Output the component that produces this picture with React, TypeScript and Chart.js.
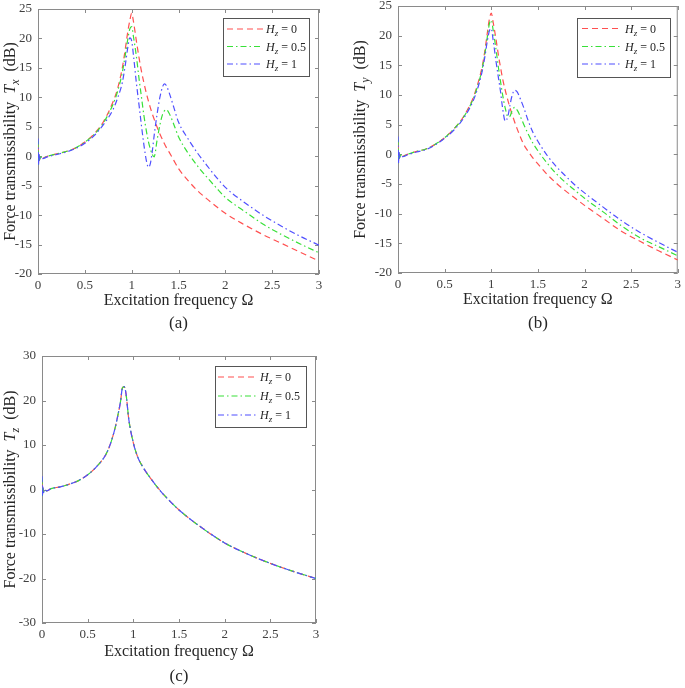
import React, { useEffect, useRef } from 'react';
import { Chart, registerables } from 'chart.js';

Chart.register(...registerables);

// ---------------- Data ----------------
// Panel (a): force transmissibility T_x (dB) vs excitation frequency Ω
const omegaX = [0, 0.005, 0.01, 0.015, 0.025, 0.05, 0.1, 0.2, 0.3, 0.4, 0.5, 0.6, 0.7, 0.8, 0.85, 0.9, 0.93, 0.96, 0.98, 1.0, 1.02, 1.05, 1.08, 1.1, 1.13, 1.16, 1.18, 1.2, 1.22, 1.24, 1.27, 1.3, 1.33, 1.35, 1.37, 1.4, 1.45, 1.5, 1.6, 1.7, 1.8, 1.9, 2.0, 2.2, 2.4, 2.6, 2.8, 3.0];
const txHz0 = [2.0, -1.2, 0.4, -0.6, -0.1, -0.3, 0.0, 0.4, 0.8, 1.4, 2.4, 3.8, 5.9, 9.2, 11.5, 15.0, 18.0, 21.3, 23.0, 24.3, 22.8, 19.6, 16.6, 14.8, 12.5, 10.5, 9.3, 8.2, 7.2, 6.3, 5.0, 3.8, 2.8, 2.1, 1.5, 0.7, -0.7, -2.1, -4.1, -5.8, -7.2, -8.5, -9.7, -11.6, -13.3, -14.8, -16.3, -17.8];
const txHz05 = [2.5, -1.4, 0.5, -0.7, -0.1, -0.3, 0.0, 0.4, 0.8, 1.4, 2.4, 3.7, 5.7, 8.8, 11.0, 14.2, 17.0, 20.0, 21.6, 22.0, 20.2, 17.0, 13.0, 10.6, 7.0, 4.0, 2.4, 1.2, 0.3, -0.1, 2.6, 5.2, 7.1, 7.7, 7.9, 7.3, 5.4, 3.3, 0.6, -1.6, -3.5, -5.3, -7.0, -9.3, -11.5, -13.3, -14.9, -16.4];
const txHz1 = [3.0, -1.5, 0.6, -0.8, -0.1, -0.4, -0.1, 0.3, 0.7, 1.3, 2.2, 3.5, 5.4, 7.9, 9.9, 12.5, 15.3, 18.6, 20.1, 19.6, 17.0, 12.5, 8.5, 5.8, 2.0, -1.0, -1.9, -1.2, 0.8, 3.5, 7.0, 9.9, 11.8, 12.3, 12.0, 10.8, 8.3, 5.8, 3.0, 0.6, -1.5, -3.5, -5.3, -7.8, -10.0, -11.9, -13.6, -15.1];

// Panel (b): T_y (dB)
const omegaY = [0, 0.005, 0.01, 0.015, 0.025, 0.05, 0.1, 0.2, 0.3, 0.4, 0.5, 0.6, 0.7, 0.8, 0.85, 0.9, 0.93, 0.96, 0.98, 1.0, 1.02, 1.05, 1.08, 1.1, 1.12, 1.15, 1.18, 1.2, 1.22, 1.25, 1.28, 1.3, 1.35, 1.4, 1.45, 1.5, 1.6, 1.7, 1.8, 1.9, 2.0, 2.2, 2.4, 2.6, 2.8, 3.0];
const tyHz0 = [2.0, -1.2, 0.4, -0.6, -0.1, -0.3, 0.0, 0.5, 0.9, 1.7, 2.8, 4.3, 6.3, 9.3, 11.6, 14.6, 17.3, 20.7, 22.8, 23.8, 22.3, 19.5, 16.4, 14.6, 12.9, 10.8, 9.0, 7.9, 6.9, 5.5, 4.2, 3.4, 1.6, 0.4, -0.7, -1.6, -3.4, -4.9, -6.2, -7.4, -8.6, -10.8, -13.0, -14.7, -16.3, -17.8];
const tyHz05 = [2.5, -1.4, 0.5, -0.7, -0.1, -0.3, 0.0, 0.5, 0.9, 1.7, 2.8, 4.3, 6.2, 9.1, 11.3, 14.2, 16.8, 20.0, 22.0, 22.6, 21.0, 17.8, 14.3, 12.2, 10.2, 7.8, 6.3, 6.4, 7.2, 7.9, 7.4, 6.8, 5.0, 3.3, 1.8, 0.6, -1.5, -3.3, -4.8, -6.1, -7.4, -9.7, -12.1, -14.1, -15.6, -17.1];
const tyHz1 = [3.0, -1.5, 0.6, -0.8, -0.1, -0.4, -0.1, 0.4, 0.8, 1.6, 2.7, 4.1, 6.0, 8.8, 10.9, 13.8, 16.3, 19.3, 20.8, 21.2, 19.3, 15.8, 12.6, 10.5, 8.0, 5.6, 6.5, 8.2, 9.7, 10.8, 10.5, 9.8, 7.8, 5.5, 3.6, 2.2, -0.2, -2.1, -3.7, -5.2, -6.5, -8.9, -11.2, -13.2, -14.9, -16.5];

// Panel (c): T_z (dB) — the three curves coincide
const omegaZ = [0, 0.005, 0.01, 0.015, 0.025, 0.05, 0.1, 0.2, 0.3, 0.4, 0.5, 0.6, 0.7, 0.75, 0.8, 0.83, 0.86, 0.88, 0.9, 0.92, 0.95, 1.0, 1.05, 1.1, 1.2, 1.3, 1.4, 1.5, 1.75, 2.0, 2.25, 2.5, 2.75, 3.0];
const tzHz0 = [2.0, -1.2, 0.4, -0.6, 0.0, -0.3, 0.2, 0.6, 1.2, 2.0, 3.3, 5.2, 7.9, 10.3, 13.8, 16.6, 19.8, 22.8, 23.1, 21.5, 15.8, 10.5, 7.2, 5.2, 2.2, -0.4, -2.6, -4.6, -8.6, -12.0, -14.5, -16.6, -18.4, -20.0];
const tzHz05 = [2.5, -1.4, 0.5, -0.7, 0.0, -0.3, 0.2, 0.6, 1.2, 2.0, 3.3, 5.2, 7.9, 10.3, 13.8, 16.6, 19.8, 22.8, 23.1, 21.5, 15.8, 10.5, 7.2, 5.2, 2.2, -0.4, -2.6, -4.6, -8.6, -12.0, -14.5, -16.6, -18.4, -20.0];
const tzHz1 = [3.0, -1.5, 0.6, -0.8, 0.0, -0.3, 0.2, 0.6, 1.2, 2.0, 3.3, 5.2, 7.9, 10.3, 13.8, 16.6, 19.8, 22.8, 23.1, 21.5, 15.8, 10.5, 7.2, 5.2, 2.2, -0.4, -2.6, -4.6, -8.6, -12.0, -14.5, -16.6, -18.4, -20.0];

const hzValues = ['0', '0.5', '1'];
const freqTicks = [0, 0.5, 1, 1.5, 2, 2.5, 3];
const dbTicksXY = [-20, -15, -10, -5, 0, 5, 10, 15, 20, 25];
const dbTicksZ = [-30, -20, -10, 0, 10, 20, 30];

// ---------------- Styling ----------------
const SERIF = "'Liberation Serif', 'Times New Roman', serif";
const FRAME = '#8a8a8a';
const TICK_TXT = '#404040';
const TITLE_TXT = '#262626';
const OFF = 20; // canvases start 20px above the page top
const W = 685;
const H = 728;

const seriesStyles = [
  { color: '#ff5050', dash: [6, 4] },
  { color: '#38e038', dash: [6, 3, 1.5, 3] },
  { color: '#4f4fff', dash: [6, 3, 1.5, 3] },
];

type Seg = { t: string; it?: boolean; sub?: boolean };
type Box = { l: number; t: number; r: number; b: number };
type Panel = {
  id: string;
  omega: number[];
  values: number[][];
  axisSub: string;
  yMin: number;
  yMax: number;
  yTicks: number[];
  area: Box;
  yTitleX: number;
  xTitleY: number;
  caption: string;
  captionY: number;
  legend: Box & { rows: number[]; lineL: number; lineR: number; textX: number };
};

const panels: Panel[] = [
  {
    id: 'a', omega: omegaX, values: [txHz0, txHz05, txHz1], axisSub: 'x',
    yMin: -20, yMax: 25, yTicks: dbTicksXY,
    area: { l: 38, t: 9, r: 319, b: 274 },
    yTitleX: 9, xTitleY: 301, caption: '(a)', captionY: 324,
    legend: { l: 223, t: 18, r: 309, b: 76, rows: [29, 46.5, 64], lineL: 227, lineR: 263, textX: 266 },
  },
  {
    id: 'b', omega: omegaY, values: [tyHz0, tyHz05, tyHz1], axisSub: 'y',
    yMin: -20, yMax: 25, yTicks: dbTicksXY,
    area: { l: 398, t: 6, r: 680, b: 273 },
    yTitleX: 359, xTitleY: 300, caption: '(b)', captionY: 324,
    legend: { l: 577, t: 18, r: 670, b: 77, rows: [28.5, 46.5, 64], lineL: 582, lineR: 621, textX: 625 },
  },
  {
    id: 'c', omega: omegaZ, values: [tzHz0, tzHz05, tzHz1], axisSub: 'z',
    yMin: -30, yMax: 30, yTicks: dbTicksZ,
    area: { l: 42, t: 356, r: 316, b: 623 },
    yTitleX: 9, xTitleY: 652, caption: '(c)', captionY: 677,
    legend: { l: 215, t: 366, r: 306, b: 427, rows: [377, 396, 415], lineL: 218, lineR: 257, textX: 260 },
  },
];

function segFont(s: Seg, size: number) {
  const sz = s.sub ? Math.round(size * 0.72) : size;
  return `${s.it ? 'italic ' : ''}${sz}px ${SERIF}`;
}

function drawSegs(ctx: CanvasRenderingContext2D, segs: Seg[], x: number, baseY: number, size: number, align: 'left' | 'center') {
  let w = 0;
  for (const s of segs) {
    ctx.font = segFont(s, size);
    w += ctx.measureText(s.t).width;
  }
  let cx = align === 'center' ? x - w / 2 : x;
  ctx.textAlign = 'left';
  ctx.textBaseline = 'alphabetic';
  for (const s of segs) {
    ctx.font = segFont(s, size);
    ctx.fillText(s.t, cx, baseY + (s.sub ? size * 0.28 : 0));
    cx += ctx.measureText(s.t).width;
  }
}

function panelPlugin(p: Panel) {
  return {
    id: 'panel_' + p.id,
    beforeDatasetsDraw(chart: any) {
      // axes box and inward ticks (drawn beneath the curves, as in the original)
      const ctx: CanvasRenderingContext2D = chart.ctx;
      const xs = chart.scales.x;
      const ys = chart.scales.y;
      const ca = chart.chartArea;
      ctx.save();
      ctx.setLineDash([]);
      ctx.strokeStyle = FRAME;
      ctx.lineWidth = 1;
      ctx.strokeRect(ca.left + 0.5, ca.top + 0.5, ca.right - ca.left - 1, ca.bottom - ca.top - 1);
      ctx.beginPath();
      for (const v of freqTicks) {
        const px = Math.round(xs.getPixelForValue(v)) + 0.5;
        ctx.moveTo(px, ca.bottom);
        ctx.lineTo(px, ca.bottom - 4);
        ctx.moveTo(px, ca.top);
        ctx.lineTo(px, ca.top + 4);
      }
      for (const v of p.yTicks) {
        const py = Math.round(ys.getPixelForValue(v)) + 0.5;
        ctx.moveTo(ca.left, py);
        ctx.lineTo(ca.left + 4, py);
        ctx.moveTo(ca.right, py);
        ctx.lineTo(ca.right - 4, py);
      }
      ctx.stroke();
      ctx.restore();
    },
    afterDatasetsDraw(chart: any) {
      const ctx: CanvasRenderingContext2D = chart.ctx;
      const ca = chart.chartArea;
      ctx.save();
      ctx.setLineDash([]);
      ctx.lineWidth = 1;

      // legend
      const lg = p.legend;
      ctx.fillStyle = '#ffffff';
      ctx.fillRect(lg.l, lg.t + OFF, lg.r - lg.l, lg.b - lg.t);
      ctx.strokeStyle = '#555555';
      ctx.strokeRect(lg.l + 0.5, lg.t + OFF + 0.5, lg.r - lg.l, lg.b - lg.t);
      chart.data.datasets.forEach((ds: any, i: number) => {
        const y = lg.rows[i] + OFF;
        ctx.save();
        ctx.strokeStyle = ds.borderColor;
        ctx.lineWidth = ds.borderWidth;
        ctx.setLineDash(ds.borderDash);
        ctx.beginPath();
        ctx.moveTo(lg.lineL, y);
        ctx.lineTo(lg.lineR, y);
        ctx.stroke();
        ctx.restore();
        ctx.fillStyle = TITLE_TXT;
        drawSegs(ctx, [{ t: 'H', it: true }, { t: 'z', it: true, sub: true }, { t: ' = ' + hzValues[i] }], lg.textX, y + 4, 12, 'left');
      });

      // axis titles and caption
      ctx.fillStyle = TITLE_TXT;
      ctx.font = `16px ${SERIF}`;
      ctx.textAlign = 'center';
      ctx.textBaseline = 'middle';
      const cx = (ca.left + ca.right) / 2;
      ctx.fillText('Excitation frequency Ω', cx, p.xTitleY + OFF);
      ctx.font = `17px ${SERIF}`;
      ctx.fillText(p.caption, cx, p.captionY + OFF);

      const cy = (ca.top + ca.bottom) / 2;
      ctx.save();
      ctx.translate(p.yTitleX, cy);
      ctx.rotate(-Math.PI / 2);
      drawSegs(
        ctx,
        [{ t: 'Force transmissibility  ' }, { t: 'T', it: true }, { t: p.axisSub, it: true, sub: true }, { t: '  (dB)' }],
        0, 5.5, 16, 'center'
      );
      ctx.restore();
      ctx.restore();
    },
  };
}

function makeConfig(p: Panel): any {
  const a = p.area;
  const orders = [3, 2, 1];
  const padLeft = a.l > 200 ? 345 : 0;
  return {
    type: 'line',
    data: {
      datasets: p.values.map((vals, i) => ({
        label: 'H_z = ' + hzValues[i],
        data: p.omega.map((o, k) => ({ x: o, y: vals[k] })),
        borderColor: seriesStyles[i].color,
        borderDash: seriesStyles[i].dash,
        borderWidth: 1.2,
        pointRadius: 0,
        fill: false,
        cubicInterpolationMode: 'monotone',
        order: orders[i],
      })),
    },
    options: {
      animation: false,
      responsive: false,
      devicePixelRatio: 1,
      events: [],
      layout: {
        padding: { left: padLeft, right: W - a.r, top: a.t + OFF, bottom: 0 },
      },
      plugins: { legend: { display: false }, tooltip: { enabled: false }, title: { display: false } },
      scales: {
        x: {
          type: 'linear',
          min: 0,
          max: 3,
          grid: { display: false, drawTicks: false },
          border: { display: false },
          ticks: {
            autoSkip: false, padding: 4, color: TICK_TXT, font: { family: SERIF, size: 13 }, maxRotation: 0,
            callback: (v: any) => String(v),
          },
          afterBuildTicks: (axis: any) => { axis.ticks = freqTicks.map((value) => ({ value })); },
          afterFit: (scale: any) => { scale.height = H - (a.b + OFF); },
        },
        y: {
          type: 'linear',
          min: p.yMin,
          max: p.yMax,
          grid: { display: false, drawTicks: false },
          border: { display: false },
          ticks: {
            autoSkip: false, padding: 6, color: TICK_TXT, font: { family: SERIF, size: 13 },
            callback: (v: any) => String(v),
          },
          afterBuildTicks: (axis: any) => { axis.ticks = p.yTicks.map((value) => ({ value })); },
          afterFit: (scale: any) => { scale.width = a.l - padLeft; },
        },
      },
    },
    plugins: [panelPlugin(p)],
  };
}

export default function App() {
  const refA = useRef<HTMLCanvasElement | null>(null);
  const refB = useRef<HTMLCanvasElement | null>(null);
  const refC = useRef<HTMLCanvasElement | null>(null);

  useEffect(() => {
    const refs = [refA, refB, refC];
    const charts = panels.map((p, i) => new Chart(refs[i].current as HTMLCanvasElement, makeConfig(p)));
    return () => charts.forEach((c) => c.destroy());
  }, []);

  const canvasStyle: React.CSSProperties = { position: 'absolute', left: 0, top: -OFF, width: W, height: H };
  return (
    <div style={{ position: 'absolute', left: 0, top: 0, width: 685, height: 688, background: '#ffffff', overflow: 'hidden' }}>
      <canvas ref={refA} width={W} height={H} style={canvasStyle} />
      <canvas ref={refB} width={W} height={H} style={canvasStyle} />
      <canvas ref={refC} width={W} height={H} style={canvasStyle} />
    </div>
  );
}
